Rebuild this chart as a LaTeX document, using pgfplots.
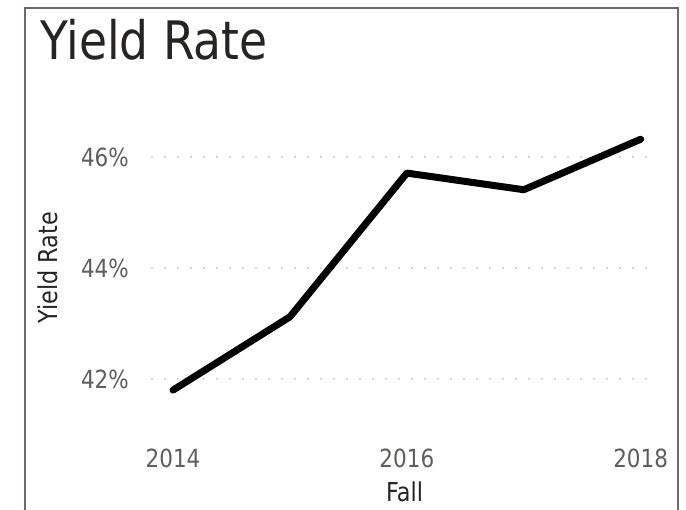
\documentclass[border=0pt]{standalone}
\usepackage{fontspec}
\setmainfont[FakeStretch=0.86]{DejaVu Sans}
\usepackage{pgfplots}
\pgfplotsset{compat=1.18}
\definecolor{framecol}{RGB}{112,104,104}
\definecolor{tickcol}{RGB}{96,94,92}
\definecolor{labcol}{RGB}{37,36,35}
\definecolor{gridcol}{RGB}{190,188,186}
\begin{document}
\begin{tikzpicture}
\path[use as bounding box] (0pt,0pt) rectangle (686pt,510pt);
% frame (bottom edge falls outside the picture)
\draw[framecol, line width=2pt] (25pt,0pt) -- (25pt,502pt) -- (678pt,502pt) -- (678pt,0pt);
% title
\node[anchor=base west, inner sep=0pt, text=labcol, font=\fontsize{53}{60}\selectfont]
  at (40pt,450pt) {Yield Rate};
\begin{axis}[
    at={(152pt,97.7pt)}, anchor=south west,
    scale only axis, width=505pt, height=288.6pt,
    xmin=2013.82, xmax=2018.14, ymin=41.4, ymax=46.6,
    axis line style={draw=none}, major tick length=0pt,
    xtick={2014,2016,2018}, ytick={42,44,46},
    /pgf/number format/assume math mode=true,
    /pgf/number format/1000 sep={},
    yticklabel={\pgfmathprintnumber{\tick}\%},
    ticklabel style={font=\fontsize{25}{30}\selectfont, text=tickcol, inner sep=0pt},
    xticklabel style={anchor=base, yshift=-55.7pt},
    yticklabel style={anchor=east, xshift=-23pt},
    ymajorgrids,
    major grid style={gridcol, line width=2pt, line cap=round, dash pattern=on 0pt off 13pt},
    xlabel={Fall}, ylabel={Yield Rate},
    label style={font=\fontsize{26}{30}\selectfont, text=labcol},
    xlabel style={at={(axis description cs:0.5,-0.31)}, anchor=base, inner sep=0pt},
    ylabel style={at={(axis description cs:-0.206,0.5)}, anchor=center, inner sep=0pt},
    clip=false,
]
\addplot[black, line width=7pt, line join=round, line cap=round] coordinates {
  (2014,41.80) (2015,43.12) (2016,45.71) (2017,45.41) (2018,46.32)
};
\end{axis}
\end{tikzpicture}
\end{document}
